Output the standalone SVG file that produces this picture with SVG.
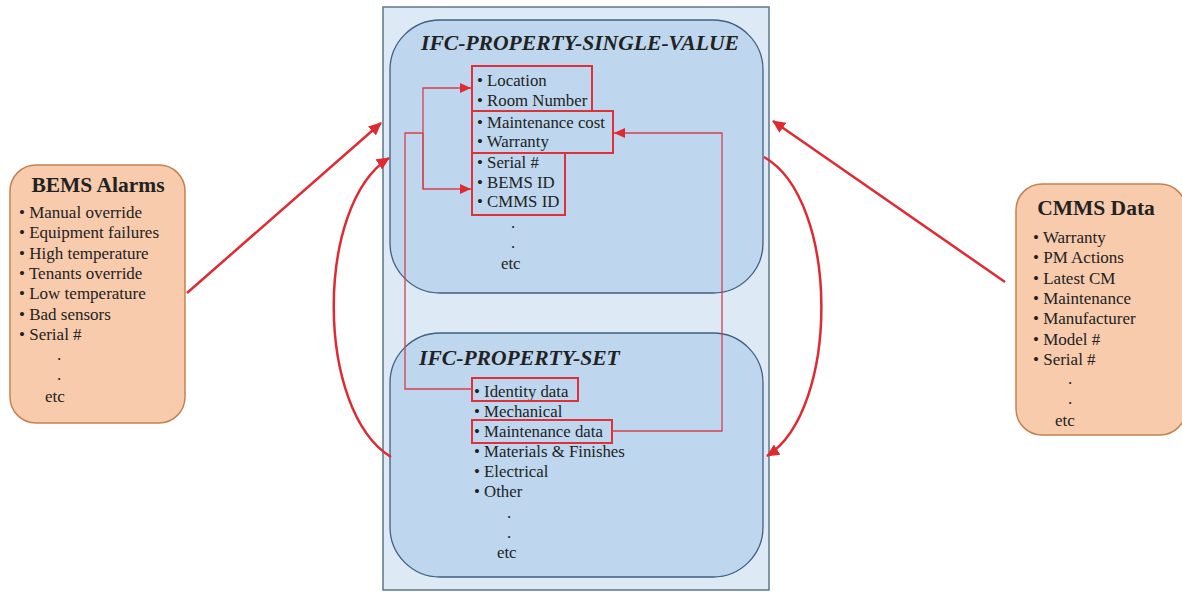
<svg xmlns="http://www.w3.org/2000/svg" width="1182" height="592" viewBox="0 0 1182 592">
  <defs>
    <marker id="arrowBig" markerUnits="userSpaceOnUse" markerWidth="14" markerHeight="12" refX="12" refY="6" orient="auto">
      <path d="M0,0 L13,6 L0,12 Z" fill="#e02a32"/>
    </marker>
    <marker id="arrowSmall" markerUnits="userSpaceOnUse" markerWidth="12" markerHeight="10" refX="11" refY="5" orient="auto">
      <path d="M0,0 L11,5 L0,10 Z" fill="#e02a32"/>
    </marker>
    <style>
      .txt { font-family: "Liberation Serif", "Times New Roman", serif; fill: #222; }
      .item { font-size: 16.8px; }
      .side { font-size: 17px; }
      .head { font-size: 21.5px; font-weight: bold; }
      .title { font-size: 21.6px; font-weight: bold; font-style: italic; }
      .peach { fill: #f8cbad; stroke: #c4824f; stroke-width: 1.5; }
      .outer { fill: #ddeaf6; stroke: #5b7690; stroke-width: 1.5; }
      .inner { fill: #bed7ee; stroke: #3f6080; stroke-width: 1.3; }
      .hl { fill: none; stroke: #e0303a; stroke-width: 2; }
      .thin { fill: none; stroke: #d8404c; stroke-width: 1.3; }
      .thick { fill: none; stroke: #e02a32; stroke-width: 2.5; }
    </style>
  </defs>

  <!-- BEMS alarms source -->
  <g id="bems">
    <rect class="peach" x="10" y="165" width="175" height="258" rx="26"/>
    <text class="txt head" x="98" y="192" text-anchor="middle">BEMS Alarms</text>
    <g class="txt side">
      <text x="19" y="218">• Manual override</text>
      <text x="19" y="238">• Equipment failures</text>
      <text x="19" y="259">• High temperature</text>
      <text x="19" y="279">• Tenants override</text>
      <text x="19" y="299">• Low temperature</text>
      <text x="19" y="320">• Bad sensors</text>
      <text x="19" y="340">• Serial #</text>
      <text x="57" y="360">.</text>
      <text x="57" y="380">.</text>
      <text x="45" y="402">etc</text>
    </g>
  </g>

  <!-- CMMS data source -->
  <g id="cmms">
    <rect class="peach" x="1016" y="184" width="170" height="251" rx="26"/>
    <text class="txt head" x="1096" y="215" text-anchor="middle">CMMS Data</text>
    <g class="txt side">
      <text x="1033" y="243">• Warranty</text>
      <text x="1033" y="263">• PM Actions</text>
      <text x="1033" y="284">• Latest CM</text>
      <text x="1033" y="304">• Maintenance</text>
      <text x="1033" y="324">• Manufacturer</text>
      <text x="1033" y="345">• Model #</text>
      <text x="1033" y="365">• Serial #</text>
      <text x="1068" y="384">.</text>
      <text x="1068" y="404">.</text>
      <text x="1055" y="426">etc</text>
    </g>
  </g>

  <!-- IFC container -->
  <g id="ifc">
    <rect class="outer" x="383" y="7" width="386" height="583"/>
  </g>

  <!-- Single value block -->
  <g id="single-value">
    <rect class="inner" x="390" y="20" width="373" height="273" rx="50"/>
    <text class="txt title" x="580" y="50" text-anchor="middle">IFC-PROPERTY-SINGLE-VALUE</text>
    <g class="txt item">
      <text x="477" y="86">• Location</text>
      <text x="477" y="106">• Room Number</text>
      <text x="477" y="128">• Maintenance cost</text>
      <text x="477" y="147">• Warranty</text>
      <text x="477" y="168">• Serial #</text>
      <text x="477" y="188">• BEMS ID</text>
      <text x="477" y="207">• CMMS ID</text>
      <text x="511" y="228">.</text>
      <text x="511" y="248">.</text>
      <text x="501" y="269">etc</text>
    </g>
    <rect class="hl" x="472" y="66" width="120" height="45"/>
    <rect class="hl" x="472" y="111" width="141" height="42"/>
    <rect class="hl" x="472" y="153" width="93" height="62"/>
  </g>

  <!-- Property set block -->
  <g id="property-set">
    <rect class="inner" x="390" y="333" width="373" height="244" rx="50"/>
    <text class="txt title" x="419" y="365">IFC-PROPERTY-SET</text>
    <g class="txt item">
      <text x="474" y="397">• Identity data</text>
      <text x="474" y="417">• Mechanical</text>
      <text x="474" y="437">• Maintenance data</text>
      <text x="474" y="457">• Materials &amp; Finishes</text>
      <text x="474" y="477">• Electrical</text>
      <text x="474" y="497">• Other</text>
      <text x="507" y="518">.</text>
      <text x="507" y="538">.</text>
      <text x="497" y="558">etc</text>
    </g>
    <rect class="hl" x="472" y="378" width="106" height="23"/>
    <rect class="hl" x="472" y="420" width="140" height="23"/>
  </g>

  <!-- Connectors -->
  <g id="connectors">
    <!-- identity data feeds location and IDs -->
    <polyline class="thin" points="472,389 405,389 405,133 423,133"/>
    <polyline class="thin" points="423,189 423,88 471,88" marker-end="url(#arrowSmall)"/>
    <polyline class="thin" points="423,133 423,189 471,189" marker-end="url(#arrowSmall)"/>
    <!-- maintenance data feeds cost and warranty -->
    <polyline class="thin" points="612,431 722,431 722,133 614,133" marker-end="url(#arrowSmall)"/>

    <!-- source feeds -->
    <line class="thick" x1="187" y1="293" x2="381" y2="123" marker-end="url(#arrowBig)"/>
    <line class="thick" x1="1005" y1="282" x2="773" y2="121" marker-end="url(#arrowBig)"/>

    <!-- set to single value loops -->
    <path class="thick" d="M391,457 C315,410 315,205 389,158" marker-end="url(#arrowBig)"/>
    <path class="thick" d="M764,157 C840,200 840,410 767,456" marker-end="url(#arrowBig)"/>
  </g>
</svg>
